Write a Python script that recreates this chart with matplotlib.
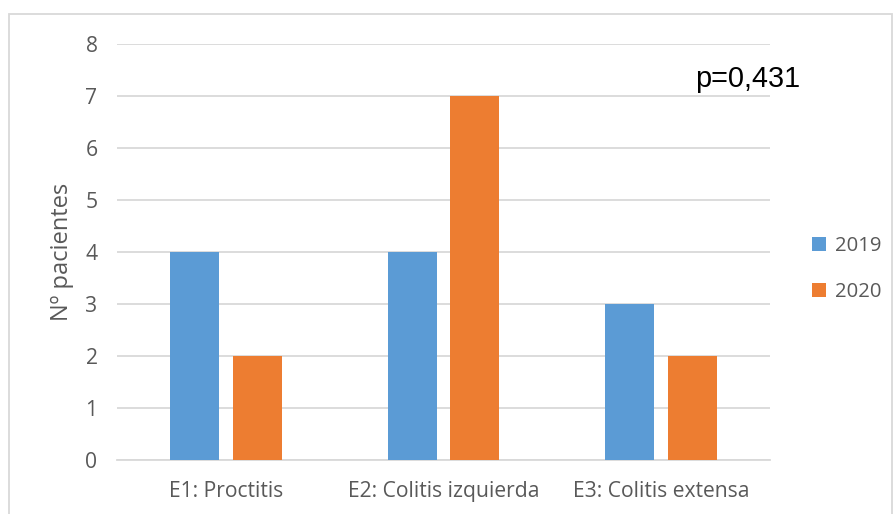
import matplotlib.pyplot as plt
import numpy as np
from matplotlib.patches import Rectangle

categories = ["E1: Proctitis", "E2: Colitis izquierda", "E3: Colitis extensa"]
years = ["2019", "2020"]
pacientes_2019 = [4, 4, 3]
pacientes_2020 = [2, 7, 2]
y_ticks = [0, 1, 2, 3, 4, 5, 6, 7, 8]
p_value = "p=0,431"

blue = "#5B9BD5"
orange = "#ED7D31"
grey_text = "#595959"
grid_col = "#D9D9D9"

plt.rcParams['font.family'] = ['Open Sans', 'DejaVu Sans']

fig = plt.figure(figsize=(8.93, 5.14), dpi=100)
W, H = 893, 514
ax = fig.add_axes([117 / W, 1 - 460 / H, (770 - 117) / W, (460 - 43.5) / H])

x = np.arange(len(categories))
width = 0.225
offset = 0.144
ax.bar(x - offset, pacientes_2019, width, color=blue, label=years[0], zorder=3)
ax.bar(x + offset, pacientes_2020, width, color=orange, label=years[1], zorder=3)

ax.set_xlim(-0.5, len(categories) - 0.5)
ax.set_ylim(0, 8)
ax.set_yticks(y_ticks)
ax.set_xticks(x)
ax.set_xticklabels(categories)
ax.yaxis.grid(True, color=grid_col, linewidth=1.3, zorder=0)
for side in ["top", "right", "left"]:
    ax.spines[side].set_visible(False)
ax.spines["bottom"].set_color(grid_col)
ax.spines["bottom"].set_linewidth(1.3)
ax.tick_params(axis="both", length=0, labelsize=15.2, colors=grey_text)
ax.tick_params(axis="y", pad=14)
ax.tick_params(axis="x", pad=15)
ax.set_ylabel("Nº pacientes", fontsize=17, color=grey_text, labelpad=8)

ax.text(695 / W, 1 - 87 / H, p_value, transform=fig.transFigure,
        fontsize=20.8, family="Liberation Sans", color="black")

leg = ax.legend(loc="center left", bbox_to_anchor=(794 / W, 1 - 269 / H),
                bbox_transform=fig.transFigure, frameon=False, fontsize=14.6,
                handlelength=0.68, handleheight=0.68, handletextpad=0.45,
                labelspacing=1.25)
for t in leg.get_texts():
    t.set_color(grey_text)

# thin frame around the chart area
fig.patches.append(Rectangle((8.5 / W, -0.1), (891.5 - 8.5) / W, 1.1 - 14.5 / H,
                             transform=fig.transFigure, fill=False,
                             edgecolor=grid_col, linewidth=1.3))

fig.savefig("out.png", dpi=100)
